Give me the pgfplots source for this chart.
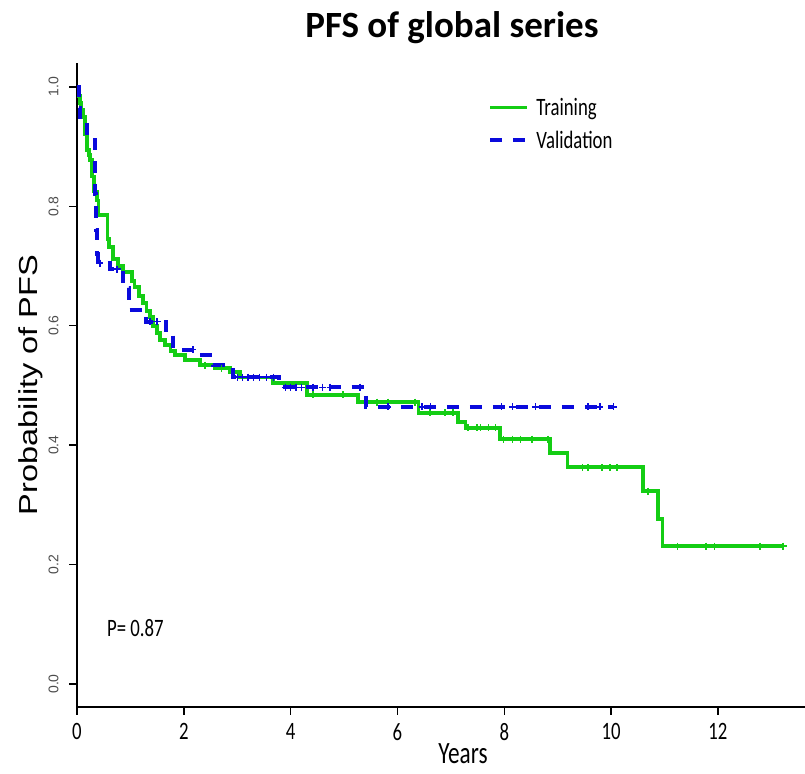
\documentclass[border=0pt]{standalone}
\usepackage{fontspec}
\setmainfont{Carlito}
\newfontfamily\condf[FakeStretch=0.75]{Carlito}
\newfontfamily\arialf{Liberation Sans}
\newfontfamily\ylabf[FakeStretch=1.25]{Liberation Sans}
\usepackage{pgfplots}
\pgfplotsset{compat=1.18}
\definecolor{kmgreen}{RGB}{20,205,20}
\definecolor{kmblue}{RGB}{10,10,220}

% Kaplan-Meier steps (years, survival)
\pgfplotstableread{
t S
0 1.000
0.03 0.985
0.056 0.973
0.08 0.962
0.11 0.950
0.15 0.920
0.19 0.894
0.22 0.886
0.24 0.878
0.28 0.850
0.32 0.825
0.37 0.810
0.40 0.785
0.57 0.745
0.60 0.732
0.67 0.712
0.77 0.700
0.86 0.690
1.03 0.675
1.08 0.665
1.16 0.650
1.24 0.638
1.30 0.625
1.37 0.615
1.42 0.600
1.50 0.588
1.55 0.576
1.65 0.568
1.75 0.558
1.84 0.551
2.02 0.543
2.30 0.534
2.58 0.529
2.87 0.523
3.05 0.513
3.67 0.504
4.31 0.484
5.26 0.472
6.39 0.454
7.13 0.439
7.27 0.429
7.92 0.410
8.86 0.387
9.18 0.363
10.60 0.323
10.88 0.276
10.96 0.231
13.22 0.231
}\training

\pgfplotstableread{
t S
2.40 0.534
2.70 0.529
4.42 0.484
4.98 0.484
5.62 0.472
5.82 0.472
6.33 0.472
6.61 0.454
6.89 0.454
7.04 0.454
7.32 0.429
7.49 0.429
7.55 0.429
7.70 0.429
7.83 0.429
7.98 0.410
8.15 0.410
8.30 0.410
8.52 0.410
8.82 0.410
9.46 0.363
9.57 0.363
9.83 0.363
9.98 0.363
10.11 0.363
10.69 0.323
11.24 0.231
11.78 0.231
11.93 0.231
12.79 0.231
13.22 0.231
}\trainingcens

\pgfplotstableread{
t S
0 1.000
0.03 0.965
0.06 0.950
0.14 0.940
0.18 0.915
0.33 0.870
0.34 0.820
0.35 0.760
0.37 0.720
0.40 0.705
0.62 0.695
0.86 0.663
0.98 0.626
1.29 0.607
1.66 0.588
1.80 0.560
2.34 0.551
2.55 0.534
2.87 0.526
2.93 0.514
3.78 0.497
5.41 0.464
10.04 0.464
}\validation

\pgfplotstableread{
t S
0.43 0.705
0.75 0.695
1.37 0.607
1.50 0.607
2.17 0.560
3.00 0.514
3.10 0.514
3.20 0.514
3.30 0.514
3.42 0.514
3.55 0.514
3.68 0.514
3.90 0.497
4.00 0.497
4.10 0.497
4.20 0.497
4.42 0.497
4.60 0.497
4.74 0.497
5.30 0.497
5.82 0.464
6.46 0.464
6.62 0.464
7.95 0.464
8.15 0.464
8.58 0.464
9.57 0.464
9.79 0.464
10.04 0.464
}\validationcens

\begin{document}
\begin{tikzpicture}
\useasboundingbox (0,0) rectangle (805pt,773pt);
\begin{axis}[
  at={(77pt,66pt)}, anchor=south west,
  scale only axis,
  width=728pt, height=644pt,
  xmin=0, xmax=13.63,
  ymin=-0.0385, ymax=1.04,
  axis lines=left,
  axis line style={-, line width=1.8pt},
  xtick={0,2,...,12},
  ytick={0,0.2,...,1.0},
  yticklabel style={/pgf/number format/fixed, /pgf/number format/fixed zerofill, /pgf/number format/precision=1},
  /pgf/number format/assume math mode=true,
  tick align=outside,
  major tick length=8pt,
  tick style={line width=1.5pt, black},
  xticklabel style={font=\fontsize{25}{25}\selectfont\condf, yshift=-5pt},
  yticklabel style={font=\fontsize{14}{14}\selectfont\arialf, rotate=90, anchor=south, text=black!70, yshift=7pt},
  clip=false,
  legend style={at={(axis cs:7.70,0.985)}, anchor=north west, draw=none, fill=none,
    inner sep=0pt, font=\fontsize{25}{25}\selectfont\condf, row sep=10pt,
    nodes={inner xsep=7pt}},
  legend cell align=left,
  legend image code/.code={\draw[#1] (0pt,0pt) -- (37pt,0pt);},
]
\addplot[const plot, color=kmgreen, line width=3.6pt] table[x=t,y=S] {\training};
\addlegendentry{Training}
\addplot[const plot, color=kmblue, line width=4pt, dash pattern=on 12pt off 11pt] table[x=t,y=S] {\validation};
\addlegendentry{Validation}
\addplot[only marks, mark=+, mark size=3.5pt, color=kmgreen, line width=1.4pt, forget plot] table[x=t,y=S] {\trainingcens};
\addplot[only marks, mark=+, mark size=3.5pt, color=kmblue, line width=1.4pt, forget plot] table[x=t,y=S] {\validationcens};
\node[anchor=west, font=\fontsize{25}{25}\selectfont\condf, inner sep=0pt] at (axis cs:0.56,0.094) {P= 0.87};
\end{axis}
\node[font=\fontsize{31}{31}\selectfont\condf, inner sep=0pt] at (463pt,19pt) {Years};
\node[font=\fontsize{37}{37}\selectfont\bfseries] at (452pt,745pt) {PFS of global series};
\node[font=\fontsize{26}{26}\selectfont\ylabf, rotate=90] at (31pt,388pt) {Probability of PFS};
\end{tikzpicture}
\end{document}
